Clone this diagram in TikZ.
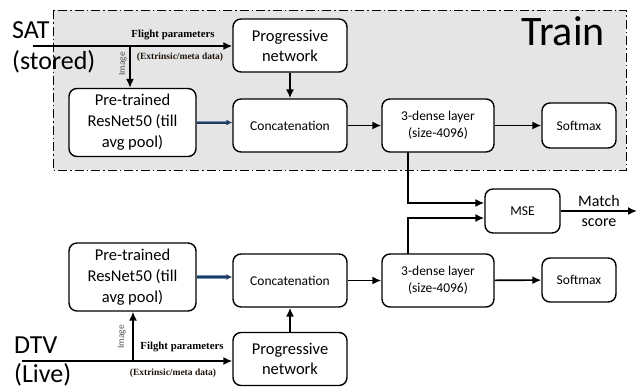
\documentclass[tikz,border=0pt]{standalone}
\usepackage{fontspec}
\setmainfont{Carlito}
\newfontfamily\serifb{Liberation Serif}
\usetikzlibrary{arrows.meta}
\definecolor{navy}{RGB}{31,58,95}
\definecolor{navyedge}{RGB}{110,145,180}
\begin{document}
\begin{tikzpicture}[x=1pt,y=-1pt,
  box/.style={draw=black,line width=1.4pt,rounded corners=8pt,fill=white,align=center,inner sep=2pt},
  arr/.style={line width=1.6pt,-{Latex[length=9pt,width=8pt]}},
  blueedge/.style={line width=3.6pt,draw=navyedge},
  bluearr/.style={line width=2pt,draw=navy,-{Latex[length=6pt,width=6pt]}},
  big/.style={font=\fontsize{26}{28}\selectfont,inner sep=0pt,anchor=west},
  fp/.style={font=\serifb\bfseries\fontsize{10.8}{12}\selectfont,inner sep=0pt},
  ex/.style={font=\serifb\bfseries\fontsize{9.5}{11}\selectfont,text=black!85!brown,inner sep=0pt},
  imglbl/.style={font=\fontsize{9.5}{11}\selectfont,text=black!65,inner sep=0pt,rotate=90}
]
\useasboundingbox (0,0) rectangle (639,389);
% Train region
\draw[fill=black!10,line width=1pt,dash pattern=on 9pt off 3pt on 1.5pt off 3pt] (53,10) rectangle (626,170);
\node[font=\fontsize{42}{44}\selectfont,inner sep=0pt] (train) at (563,31) {Train};

% ---------- top (SAT) ----------
\node[big] (sat) at (12,30) {SAT};
\node[big] (stored) at (12,62) {(stored)};
\node[box,minimum width=114pt,minimum height=53pt,font=\fontsize{16.5}{20}\selectfont] (prog1) at (290,45.5) {Progressive\\network};
\node[box,minimum width=127pt,minimum height=68pt,font=\fontsize{16.5}{21}\selectfont] (res1) at (132.5,122.5) {Pre-trained\\ResNet50 (till\\avg pool)};
\node[box,minimum width=114pt,minimum height=53pt,font=\fontsize{13.5}{16}\selectfont] (cat1) at (290,125.5) {Concatenation};
\node[box,minimum width=112pt,minimum height=53pt,font=\fontsize{13.5}{17}\selectfont] (den1) at (438,125.5) {3-dense layer\\(size-4096)};
\node[box,minimum width=74pt,minimum height=45pt,font=\fontsize{13.5}{16}\selectfont] (soft1) at (579,125.5) {Softmax};

\coordinate (s1) at (33,46);
\coordinate (i1) at (130,46);
\draw[arr] (s1) -- (prog1.west |- s1);
\draw[arr] (i1) -- (i1 |- res1.north);
\node[fp] (fl1) at (173,35) {Flight parameters};
\node[ex] (ex1) at (180,57) {(Extrinsic/meta data)};
\node[imglbl] (im1) at (123,64) {Image};
\draw[arr] (prog1) -- (cat1);
\draw[blueedge] (res1.east) -- ([xshift=-6pt]cat1.west |- res1.east);
\draw[bluearr] (res1.east) -- (cat1.west |- res1.east);
\draw[arr] (cat1) -- (den1);
\draw[arr] (den1) -- (soft1);

% ---------- MSE ----------
\node[box,minimum width=75pt,minimum height=44pt,font=\fontsize{13.5}{16}\selectfont] (mse) at (522.5,211) {MSE};
\coordinate (mout) at (637,211);
\draw[arr] (mse.east) -- (mout);
\node[font=\fontsize{16}{20}\selectfont,align=center,inner sep=0pt] (ms) at (599,211) {Match\\score};

% ---------- bottom (DTV) ----------
\node[box,minimum width=127pt,minimum height=68pt,font=\fontsize{16.5}{21}\selectfont] (res2) at (132.5,277) {Pre-trained\\ResNet50 (till\\avg pool)};
\node[box,minimum width=114pt,minimum height=53pt,font=\fontsize{13.5}{16}\selectfont] (cat2) at (290,280.5) {Concatenation};
\node[box,minimum width=112pt,minimum height=53pt,font=\fontsize{13.5}{17}\selectfont] (den2) at (438,280.5) {3-dense layer\\(size-4096)};
\node[box,minimum width=74pt,minimum height=44pt,font=\fontsize{13.5}{16}\selectfont] (soft2) at (579,280) {Softmax};
\node[box,minimum width=114pt,minimum height=53pt,font=\fontsize{16.5}{20}\selectfont] (prog2) at (290,359) {Progressive\\network};

\node[big] (dtv) at (14,345) {DTV};
\node[big] (live) at (14,375) {(Live)};
\coordinate (s2) at (22,361);
\coordinate (i2) at (133,361);
\draw[arr] (s2) -- (prog2.west |- s2);
\draw[arr] (i2) -- (i2 |- res2.south);
\node[fp] (fl2) at (182,347) {Filght parameters};
\node[ex] (ex2) at (173,373) {(Extrinsic/meta data)};
\node[imglbl] (im2) at (122,337) {Image};
\draw[arr] (prog2) -- (cat2);
\draw[blueedge] (res2.east) -- ([xshift=-6pt]cat2.west |- res2.east);
\draw[bluearr] (res2.east) -- (cat2.west |- res2.east);
\draw[arr] (cat2) -- (den2);
\draw[arr] (den2) -- (soft2);

% to MSE
\draw[arr] (408,152) |- (mse.west |- 0,203);
\draw[arr] (408,254) |- (mse.west |- 0,218);
\end{tikzpicture}
\end{document}
